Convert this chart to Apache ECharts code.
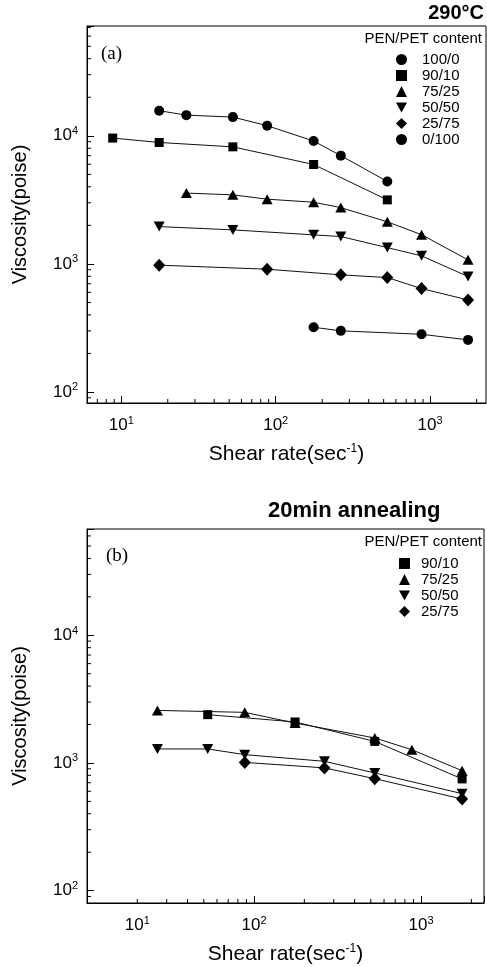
<!DOCTYPE html>
<html>
<head>
<meta charset="utf-8">
<script src="https://cdn.jsdelivr.net/npm/echarts@6/dist/echarts.min.js"></script>
<style>
  html, body { margin: 0; padding: 0; background: #fff; }
  #chart { width: 487px; height: 967px; }
</style>
</head>
<body>
<div id="chart"></div>
<script>
// ---- panel (a): 290°C ----
const rateA_100_0 = [17.6, 26.4, 52.8, 88, 176, 264, 528];
const viscA_100_0 = [15700, 14500, 14000, 12000, 9100, 7000, 4400];
const rateA_90_10 = [8.8, 17.6, 52.8, 176, 528];
const viscA_90_10 = [9600, 8870, 8200, 5970, 3160];
const rateA_75_25 = [26.4, 52.8, 88, 176, 264, 528, 880, 1760];
const viscA_75_25 = [3570, 3460, 3200, 3030, 2750, 2130, 1690, 1075];
const rateA_50_50 = [17.6, 52.8, 176, 264, 528, 880, 1760];
const viscA_50_50 = [1955, 1843, 1685, 1635, 1340, 1155, 797];
const rateA_25_75 = [17.6, 88, 264, 528, 880, 1760];
const viscA_25_75 = [977, 909, 821, 782, 641, 523];
const rateA_0_100 = [176, 264, 880, 1760];
const viscA_0_100 = [320, 300, 282, 255];

// ---- panel (b): 20min annealing ----
const rateB_90_10 = [52.8, 176, 528, 1760];
const viscB_90_10 = [2390, 2095, 1475, 750];
const rateB_75_25 = [26.4, 88, 176, 528, 880, 1760];
const viscB_75_25 = [2580, 2490, 2055, 1570, 1270, 870];
const rateB_50_50 = [26.4, 52.8, 88, 264, 528, 1760];
const viscB_50_50 = [1287, 1287, 1162, 1030, 835, 575];
const rateB_25_75 = [88, 264, 528, 1760];
const viscB_25_75 = [1010, 915, 753, 522];

// axis ranges and minor ticks
const xRangeA = [6, 2300];
const yRangeA = [82, 72000];
const xRangeB = [10, 2380];
const yRangeB = [80, 68000];
const minorX = [7, 8, 9, 20, 30, 40, 50, 60, 70, 80, 90, 200, 300, 400, 500, 600, 700, 800, 900, 2000];
const minorY = [90, 200, 300, 400, 500, 600, 700, 800, 900, 2000, 3000, 4000, 5000, 6000, 7000, 8000, 9000,
  20000, 30000, 40000, 50000, 60000, 70000];
// x tick labels of panel (b): the original figure prints "10^1" at the 20 tick
const xLabelPosB = [20, 100, 1000];
const xLabelExpB = [1, 2, 3];

const FONT = 'Liberation Sans, Arial, sans-serif';

const marks = {
  circle: { symbol: 'circle', symbolSize: 10, icon: 'circle' },
  square: { symbol: 'rect', symbolSize: 9, icon: 'rect' },
  up: { symbol: 'triangle', symbolSize: [11, 10], icon: 'triangle' },
  down: { symbol: 'triangle', symbolSize: [11, 10], symbolRotate: 180, icon: 'path://M0,0L10,0L5,9Z' },
  diamond: { symbol: 'diamond', symbolSize: [12, 13], icon: 'diamond' }
};

const zip = (xs, ys) => xs.map((x, i) => [x, ys[i]]);

const lineSeries = (name, xs, ys, mark, idx) => ({
  name,
  type: 'line',
  xAxisIndex: idx,
  yAxisIndex: idx,
  data: zip(xs, ys),
  symbol: mark.symbol,
  symbolSize: mark.symbolSize,
  symbolRotate: mark.symbolRotate || 0,
  color: '#000',
  itemStyle: { color: '#000' },
  lineStyle: { color: '#111', width: 1 },
  animation: false,
  z: 3
});

// 对数轴次刻度（2..9 × 10^n）
const tickX = (params, api) => {
  const p = api.coord([api.value(0), api.value(1)]);
  return { type: 'line', shape: { x1: p[0], y1: p[1], x2: p[0], y2: p[1] - 4 }, style: { stroke: '#000', lineWidth: 1 } };
};
const tickY = (params, api) => {
  const p = api.coord([api.value(0), api.value(1)]);
  return { type: 'line', shape: { x1: p[0], y1: p[1], x2: p[0] + 4, y2: p[1] }, style: { stroke: '#000', lineWidth: 1 } };
};
const minorSeries = (idx, xr, yr) => [
  {
    type: 'custom', xAxisIndex: idx, yAxisIndex: idx, silent: true, animation: false,
    renderItem: tickX,
    data: minorX.filter(v => v > xr[0] && v < xr[1]).map(v => [v, yr[0]])
  },
  {
    type: 'custom', xAxisIndex: idx, yAxisIndex: idx, silent: true, animation: false,
    renderItem: tickY,
    data: minorY.filter(v => v > yr[0] && v < yr[1]).map(v => [xr[0], v])
  }
];

const powLabel = v => {
  const e = Math.log10(v);
  if (Math.abs(e - Math.round(e)) > 1e-6) return '';
  return '{b|10}{s|' + Math.round(e) + '}';
};
const powLabelB = v => {
  const i = xLabelPosB.findIndex(p => Math.abs(p - v) / p < 1e-6);
  return i < 0 ? '' : '{b|10}{s|' + xLabelExpB[i] + '}';
};
const labelRich = {
  b: { fontSize: 17, fontFamily: FONT, color: '#000' },
  s: { fontSize: 11, fontFamily: FONT, color: '#000', padding: [0, 0, 9, 0] }
};

const xAxis = (idx, r, labels) => ({
  type: 'log', logBase: 10, gridIndex: idx, min: r[0], max: r[1],
  axisLine: { lineStyle: { color: '#000', width: 1 } },
  axisTick: { inside: true, length: 7, lineStyle: { color: '#000' } },
  splitLine: { show: false },
  axisLabel: labels
    ? { customValues: labels, formatter: powLabelB, rich: labelRich, margin: 12 }
    : { formatter: powLabel, rich: labelRich, margin: 12, showMinLabel: true, showMaxLabel: false },
  name: 'Shear rate(sec{s|-1})',
  nameLocation: 'middle',
  nameGap: 40,
  nameTextStyle: {
    fontSize: 21, fontFamily: FONT, color: '#000',
    rich: { s: { fontSize: 12, fontFamily: FONT, color: '#000', padding: [0, 0, 10, 0] } }
  }
});

const yAxis = (idx, r) => ({
  type: 'log', logBase: 10, gridIndex: idx, min: r[0], max: r[1],
  axisLine: { lineStyle: { color: '#000', width: 1 } },
  axisTick: { inside: true, length: 7, lineStyle: { color: '#000' } },
  splitLine: { show: false },
  axisLabel: { formatter: powLabel, rich: labelRich, margin: 9 },
  name: 'Viscosity(poise)',
  nameLocation: 'middle',
  nameGap: 57,
  nameTextStyle: { fontSize: 20, fontFamily: FONT, color: '#000' }
});

const legendBox = (left, top, pad, items) => ({
  orient: 'vertical',
  left, top,
  itemWidth: 11, itemHeight: 11, itemGap: 1,
  selectedMode: false,
  textStyle: { fontSize: 15, fontFamily: FONT, color: '#000', lineHeight: 15, padding: [0, 0, 0, pad] },
  data: items.map(([name, m]) => ({ name, icon: marks[m].icon }))
});

const chart = echarts.init(document.getElementById('chart'));

const option = {
  backgroundColor: '#fff',
  animation: false,
  title: [
    { text: '290°C', right: 3, top: 3, padding: 0,
      textStyle: { fontSize: 20, fontWeight: 'bold', fontFamily: FONT, color: '#000' } },
    { text: '(a)', left: 101, top: 45, padding: 0,
      textStyle: { fontSize: 19, fontWeight: 'normal', fontFamily: 'Liberation Serif, serif', color: '#000' } },
    { text: 'PEN/PET content', right: 5, top: 31, padding: 0,
      textStyle: { fontSize: 15, fontWeight: 'normal', fontFamily: FONT, color: '#000' } },
    { text: '20min annealing', left: 268, top: 500, padding: 0,
      textStyle: { fontSize: 22, fontWeight: 'bold', fontFamily: FONT, color: '#000' } },
    { text: '(b)', left: 106, top: 547, padding: 0,
      textStyle: { fontSize: 19, fontWeight: 'normal', fontFamily: 'Liberation Serif, serif', color: '#000' } },
    { text: 'PEN/PET content', right: 5, top: 534, padding: 0,
      textStyle: { fontSize: 15, fontWeight: 'normal', fontFamily: FONT, color: '#000' } }
  ],
  legend: [
    legendBox(391, 47, 10, [['100/0', 'circle'], ['90/10', 'square'], ['75/25', 'up'],
      ['50/50', 'down'], ['25/75', 'diamond'], ['0/100', 'circle']]),
    legendBox(394, 551, 6, [['90/10', 'square'], ['75/25', 'up'], ['50/50', 'down'], ['25/75', 'diamond']])
  ],
  grid: [
    { left: 87, top: 26, right: 1, bottom: 564, show: true, borderColor: '#000', borderWidth: 1 },
    { left: 87, top: 529, right: 3, bottom: 64, show: true, borderColor: '#000', borderWidth: 1 }
  ],
  xAxis: [xAxis(0, xRangeA), xAxis(1, xRangeB, xLabelPosB)],
  yAxis: [yAxis(0, yRangeA), yAxis(1, yRangeB)],
  series: [
    lineSeries('100/0', rateA_100_0, viscA_100_0, marks.circle, 0),
    lineSeries('90/10', rateA_90_10, viscA_90_10, marks.square, 0),
    lineSeries('75/25', rateA_75_25, viscA_75_25, marks.up, 0),
    lineSeries('50/50', rateA_50_50, viscA_50_50, marks.down, 0),
    lineSeries('25/75', rateA_25_75, viscA_25_75, marks.diamond, 0),
    lineSeries('0/100', rateA_0_100, viscA_0_100, marks.circle, 0),
    lineSeries('90/10', rateB_90_10, viscB_90_10, marks.square, 1),
    lineSeries('75/25', rateB_75_25, viscB_75_25, marks.up, 1),
    lineSeries('50/50', rateB_50_50, viscB_50_50, marks.down, 1),
    lineSeries('25/75', rateB_25_75, viscB_25_75, marks.diamond, 1),
    ...minorSeries(0, xRangeA, yRangeA),
    ...minorSeries(1, xRangeB, yRangeB)
  ]
};

chart.setOption(option);
</script>
</body>
</html>
